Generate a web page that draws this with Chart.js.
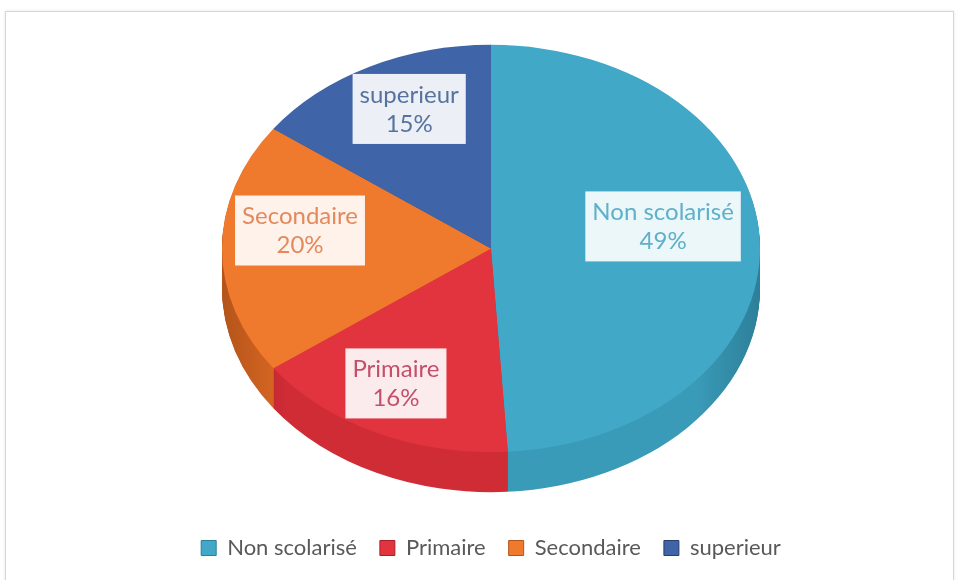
<!DOCTYPE html>
<html><head><meta charset="utf-8">
<script src="https://cdn.jsdelivr.net/npm/chart.js@4/dist/chart.umd.min.js"></script>
<style>
html,body{margin:0;padding:0;background:#fff;}
#wrap{position:relative;width:958px;height:580px;overflow:hidden;}
#frame{position:absolute;left:5px;top:11px;width:947px;height:640px;border:1px solid #d6d6d6;box-shadow:0 0 3px rgba(0,0,0,0.10);}
canvas{position:absolute;left:0;top:0;}
</style></head><body>
<div id="wrap"><div id="frame"></div><canvas id="c" width="958" height="580"></canvas></div>
<script>
// ---- data ----
const categories = ['Non scolarisé', 'Primaire', 'Secondaire', 'superieur'];
const values = [49, 16, 20, 15];
const percentLabels = ['49%', '16%', '20%', '15%'];

// ---- style ----
const topColors  = ['#42a8c8', '#e1343f', '#ef792d', '#3f64a7'];
const sideColors = ['#3a9bb9', '#cf2c36', '#dc6923', '#35568f'];
const edgeColors = ['#2c7f99', '#a82029', '#b4541a', '#283f6c'];
const textColors = ['#5fb0c9', '#c2506a', '#e3895c', '#56739f'];
const labelFrac  = [0.64, 0.83, 0.71, 0.67];
const TILT = 0.757, DEPTH = 40, CY = 248.5, LABEL_DY = -18;
const LABEL_FONT = '24px Lato';

const pie3d = {
  id: 'pie3d',
  beforeDatasetsDraw(chart) {
    const ctx = chart.ctx;
    const meta = chart.getDatasetMeta(0);
    const a0 = meta.data[0];
    const cx = a0.x, c0 = a0.y, r = a0.outerRadius;
    const grads = sideColors.map((c, i) => {
      const g = ctx.createLinearGradient(cx - r, 0, cx + r, 0);
      g.addColorStop(0, edgeColors[i]);
      g.addColorStop(0.12, c);
      g.addColorStop(0.88, c);
      g.addColorStop(1, edgeColors[i]);
      return g;
    });
    for (let d = DEPTH; d >= 1; d--) {
      ctx.save();
      ctx.translate(cx, CY + d); ctx.scale(1, TILT); ctx.translate(-cx, -c0);
      meta.data.forEach((arc, i) => {
        ctx.beginPath();
        ctx.moveTo(arc.x, arc.y);
        ctx.arc(arc.x, arc.y, arc.outerRadius, arc.startAngle, arc.endAngle);
        ctx.closePath();
        ctx.fillStyle = grads[i];
        ctx.fill();
      });
      ctx.restore();
    }
    ctx.save();
    ctx.translate(cx, CY); ctx.scale(1, TILT); ctx.translate(-cx, -c0);
  },
  afterDatasetsDraw(chart) {
    const ctx = chart.ctx;
    ctx.restore();
    const meta = chart.getDatasetMeta(0);
    ctx.save();
    ctx.font = LABEL_FONT;
    ctx.textAlign = 'center';
    ctx.textBaseline = 'middle';
    meta.data.forEach((arc, i) => {
      const mid = (arc.startAngle + arc.endAngle) / 2;
      const f = labelFrac[i];
      const x = arc.x + Math.cos(mid) * arc.outerRadius * f;
      const y = CY + LABEL_DY + Math.sin(mid) * arc.outerRadius * f * TILT;
      const l1 = chart.data.labels[i], l2 = percentLabels[i];
      const w = Math.max(ctx.measureText(l1).width, ctx.measureText(l2).width) + 14;
      const h = 70;
      ctx.fillStyle = 'rgba(255,255,255,0.9)';
      ctx.fillRect(x - w / 2, y - h / 2, w, h);
      ctx.fillStyle = textColors[i];
      ctx.fillText(l1, x, y - 14);
      ctx.fillText(l2, x, y + 15);
    });
    ctx.restore();
  }
};

new Chart(document.getElementById('c'), {
  type: 'pie',
  data: {
    labels: categories,
    datasets: [{
      data: values,
      backgroundColor: topColors,
      borderWidth: 0,
      radius: 269
    }]
  },
  options: {
    responsive: false,
    animation: false,
    layout: { padding: { left: 24, right: 0, top: 0, bottom: 11 } },
    plugins: {
      tooltip: { enabled: false },
      legend: {
        position: 'bottom',
        labels: {
          boxWidth: 15, boxHeight: 15, padding: 23,
          color: '#595959',
          font: { family: 'Lato', size: 22 },
          generateLabels(chart) {
            return chart.data.labels.map((t, i) => ({
              text: t, fillStyle: topColors[i], strokeStyle: edgeColors[i],
              lineWidth: 1, hidden: false, index: i, fontColor: '#595959'
            }));
          }
        }
      }
    }
  },
  plugins: [pie3d]
});
</script>
</body></html>
